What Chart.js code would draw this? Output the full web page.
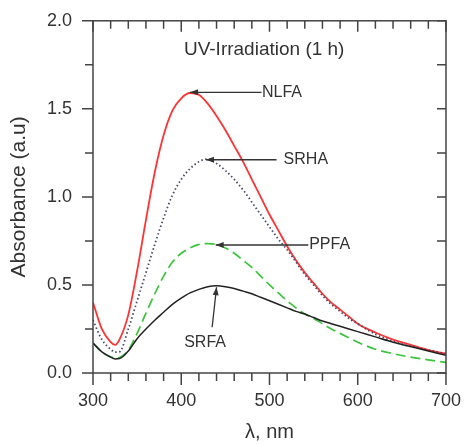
<!DOCTYPE html>
<html>
<head>
<meta charset="utf-8">
<script src="https://cdn.jsdelivr.net/npm/chart.js@4"></script>
<style>
  html, body { margin: 0; padding: 0; background: #fff; }
  canvas { display: block; }
</style>
</head>
<body>
<canvas id="chart" width="466" height="444"></canvas>
<script>
// Absorbance spectra after 1 h UV irradiation

const wavelength = [300, 310, 320, 325, 330, 340, 350, 360, 370, 380, 390, 400, 410, 420, 430, 440, 450, 460, 470,
  480, 490, 500, 510, 520, 530, 540, 550, 560, 570, 580, 590, 600, 620, 640, 660, 680, 700];
const nlfa = [0.40, 0.25, 0.175, 0.16, 0.19, 0.33, 0.58, 0.87, 1.14, 1.35, 1.49, 1.56, 1.59, 1.58, 1.53, 1.46, 1.38, 1.29, 1.20,
  1.10, 1.00, 0.90, 0.81, 0.72, 0.64, 0.57, 0.51, 0.45, 0.40, 0.36, 0.32, 0.28, 0.23, 0.19, 0.16, 0.13, 0.11];
const srha = [0.30, 0.19, 0.135, 0.118, 0.12, 0.25, 0.41, 0.57, 0.73, 0.88, 1.01, 1.10, 1.16, 1.20, 1.215, 1.19, 1.15, 1.10, 1.04,
  0.97, 0.90, 0.83, 0.76, 0.70, 0.63, 0.56, 0.50, 0.44, 0.39, 0.35, 0.31, 0.28, 0.22, 0.18, 0.15, 0.13, 0.11];
const ppfa = [0.17, 0.12, 0.092, 0.085, 0.088, 0.13, 0.225, 0.34, 0.45, 0.55, 0.63, 0.68, 0.71, 0.73, 0.735, 0.73, 0.71, 0.68, 0.64,
  0.60, 0.55, 0.50, 0.455, 0.41, 0.37, 0.335, 0.31, 0.28, 0.25, 0.225, 0.20, 0.175, 0.135, 0.11, 0.09, 0.075, 0.06];
const srfa = [0.17, 0.12, 0.09, 0.08, 0.082, 0.125, 0.195, 0.25, 0.30, 0.345, 0.39, 0.425, 0.455, 0.475, 0.49, 0.495, 0.49, 0.48, 0.465,
  0.45, 0.43, 0.41, 0.39, 0.37, 0.35, 0.335, 0.315, 0.295, 0.28, 0.265, 0.25, 0.235, 0.205, 0.175, 0.15, 0.125, 0.10];

const xTicks = [300, 400, 500, 600, 700];
const yTicks = [0, 0.5, 1.0, 1.5, 2.0];

const FONT = 'Liberation Sans, Arial, sans-serif';
const INK = '#333';
const AXIS = '#444';

const pts = arr => wavelength.map((x, i) => ({ x, y: arr[i] }));

// frame with minor ticks: out on left/bottom, in on top/right
const framePlugin = {
  id: 'frame',
  afterDraw(chart) {
    const { ctx, chartArea: a, scales: { x, y } } = chart;
    ctx.save();
    ctx.strokeStyle = AXIS;
    ctx.lineWidth = 1.5;
    ctx.strokeRect(a.left, a.top, a.right - a.left, a.bottom - a.top);
    ctx.beginPath();
    for (let v = 300; v <= 700; v += 20) {
      const px = x.getPixelForValue(v);
      const major = v % 100 === 0;
      ctx.moveTo(px, a.bottom); ctx.lineTo(px, a.bottom + (major ? 12 : 8));
      ctx.moveTo(px, a.top); ctx.lineTo(px, a.top + (major ? 11 : 8));
    }
    for (let v = 0; v <= 2.001; v += 0.25) {
      const py = y.getPixelForValue(v);
      const major = Math.abs(v * 2 - Math.round(v * 2)) < 1e-6;
      ctx.moveTo(a.left, py); ctx.lineTo(a.left - (major ? 11 : 8), py);
      ctx.moveTo(a.right, py); ctx.lineTo(a.right - 9, py);
    }
    ctx.stroke();
    ctx.restore();
  }
};

// title text and arrow labels, placed in data units
const notes = [
  { text: 'NLFA', tip: [410, 1.594], tail: [491, 1.594], at: [491.5, 1.594], align: 'left' },
  { text: 'SRHA', tip: [428, 1.211], tail: [508, 1.211], at: [516, 1.211], align: 'left' },
  { text: 'PPFA', tip: [439, 0.727], tail: [544, 0.727], at: [545, 0.727], align: 'left' },
  { text: 'SRFA', tip: [440, 0.487], tail: [435, 0.26], at: [427, 0.175], align: 'center' }
];

const notePlugin = {
  id: 'notes',
  afterDatasetsDraw(chart) {
    const { ctx, scales: { x, y } } = chart;
    ctx.save();
    ctx.fillStyle = INK;
    ctx.textBaseline = 'middle';
    ctx.font = '19px ' + FONT;
    ctx.textAlign = 'center';
    ctx.fillText('UV-Irradiation (1 h)', x.getPixelForValue(494), y.getPixelForValue(1.837));

    ctx.font = '16px ' + FONT;
    notes.forEach(n => {
      const x1 = x.getPixelForValue(n.tail[0]), y1 = y.getPixelForValue(n.tail[1]);
      const x2 = x.getPixelForValue(n.tip[0]), y2 = y.getPixelForValue(n.tip[1]);
      ctx.strokeStyle = INK;
      ctx.lineWidth = 1.3;
      ctx.beginPath();
      ctx.moveTo(x1, y1);
      ctx.lineTo(x2, y2);
      ctx.stroke();
      const ang = Math.atan2(y2 - y1, x2 - x1);
      ctx.beginPath();
      ctx.moveTo(x2, y2);
      ctx.lineTo(x2 - 8 * Math.cos(ang) + 3 * Math.sin(ang), y2 - 8 * Math.sin(ang) - 3 * Math.cos(ang));
      ctx.lineTo(x2 - 8 * Math.cos(ang) - 3 * Math.sin(ang), y2 - 8 * Math.sin(ang) + 3 * Math.cos(ang));
      ctx.closePath();
      ctx.fill();
      ctx.textAlign = n.align;
      ctx.fillText(n.text, x.getPixelForValue(n.at[0]), y.getPixelForValue(n.at[1]));
    });
    ctx.restore();
  }
};

new Chart(document.getElementById('chart').getContext('2d'), {
  type: 'line',
  data: {
    datasets: [
      { label: 'SRFA', data: pts(srfa), borderColor: '#222', borderWidth: 1.5 },
      { label: 'PPFA', data: pts(ppfa), borderColor: '#3cc43c', borderWidth: 1.7, borderDash: [10, 5] },
      { label: 'SRHA', data: pts(srha), borderColor: '#4a4a6a', borderWidth: 1.8, borderDash: [1.5, 2.5] },
      { label: 'NLFA', data: pts(nlfa), borderColor: '#ff3333', borderWidth: 1.8 }
    ]
  },
  options: {
    responsive: false,
    animation: false,
    layout: { padding: { top: 18, right: 17, left: 0, bottom: 0 } },
    elements: { point: { radius: 0 }, line: { cubicInterpolationMode: 'monotone', fill: false } },
    plugins: { legend: { display: false }, tooltip: { enabled: false } },
    scales: {
      x: {
        type: 'linear', min: 300, max: 700,
        afterBuildTicks: s => { s.ticks = xTicks.map(v => ({ value: v })); },
        ticks: { color: INK, font: { family: FONT, size: 18 }, padding: 5, maxRotation: 0 },
        grid: { drawOnChartArea: false, tickLength: 12, tickColor: 'rgba(0,0,0,0)' },
        border: { display: false },
        title: { display: true, text: 'λ, nm', color: INK, font: { family: FONT, size: 20 }, padding: { top: 0, bottom: 0 } },
        afterFit: s => { s.height = 71; }
      },
      y: {
        min: 0, max: 2,
        afterBuildTicks: s => { s.ticks = yTicks.map(v => ({ value: v })); },
        ticks: { color: INK, font: { family: FONT, size: 18 }, padding: 10, callback: v => v.toFixed(1) },
        grid: { drawOnChartArea: false, tickLength: 11, tickColor: 'rgba(0,0,0,0)' },
        border: { display: false },
        title: { display: true, text: 'Absorbance (a.u)', color: INK, font: { family: FONT, size: 21 }, padding: { top: 7, bottom: 0 } },
        afterFit: s => { s.width = 93; }
      }
    }
  },
  plugins: [framePlugin, notePlugin]
});
</script>
</body>
</html>
